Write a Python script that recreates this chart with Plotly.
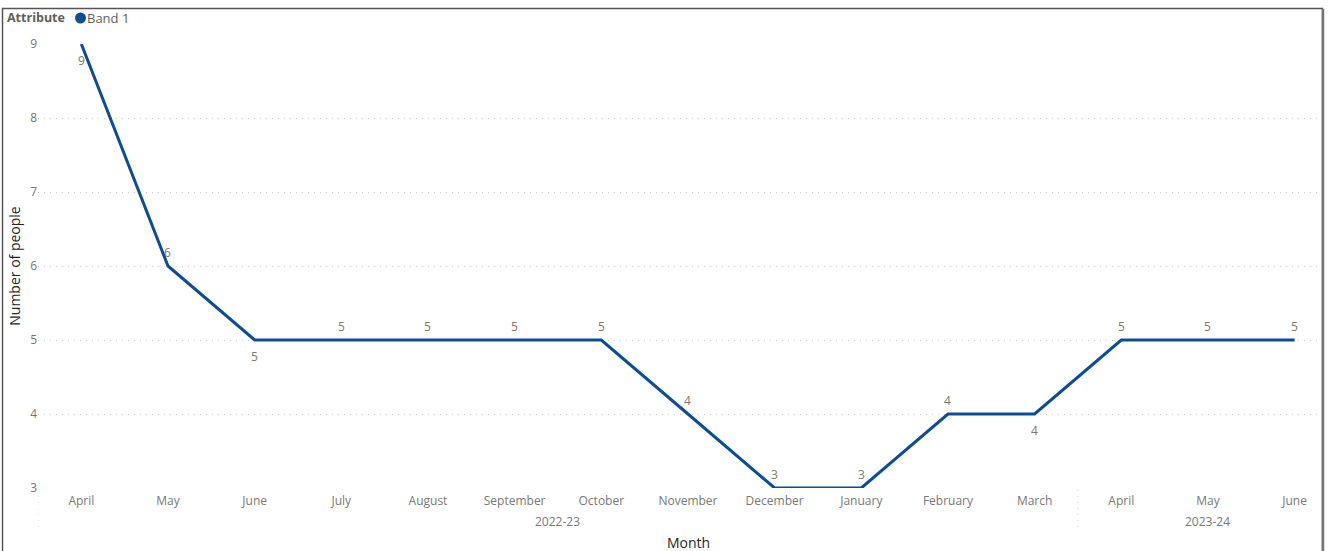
import plotly.graph_objects as go

months = ["April", "May", "June", "July", "August", "September", "October",
          "November", "December", "January", "February", "March",
          "April", "May", "June"]
years = ["2022-23", "2023-24"]
year_counts = [12, 3]
band1 = [9, 6, 5, 5, 5, 5, 5, 4, 3, 3, 4, 4, 5, 5, 5]
label_below = [True, False, True, False, False, False, False, False, False, False,
               False, True, False, False, False]

FONT = "Segoe UI, Open Sans, sans-serif"
LINE = "#0E4C96"
LABEL = "#857563"
TICK = "#777777"

x_idx = list(range(len(months)))

fig = go.Figure()
fig.add_trace(go.Scatter(
    x=x_idx, y=band1, mode="lines",
    line=dict(color=LINE, width=3),
    cliponaxis=False, showlegend=False, name="Band 1",
))

W, H = 1328, 551
L, R, T, B = 38, 10, 44, 63
pw, ph = W - L - R, H - T - B

def px(xp):
    return (xp - L) / pw

def py(yp):
    return (H - B - yp) / ph

annotations = []
shapes = []

# data labels
for xi, v, below in zip(x_idx, band1, label_below):
    annotations.append(dict(x=xi, y=v, xref="x", yref="y", text=str(v), showarrow=False,
                            font=dict(family=FONT, size=12, color=LABEL),
                            xanchor="center", yanchor="middle",
                            yshift=-16 if below else 14))

# year group labels and separators
start = 0
for yname, cnt in zip(years, year_counts):
    mid = start + (cnt - 1) / 2
    annotations.append(dict(x=mid, xref="x", y=py(521), yref="paper", text=yname,
                            showarrow=False, font=dict(family=FONT, size=12, color=TICK),
                            xanchor="center", yanchor="middle"))
    shapes.append(dict(type="line", xref="x", yref="paper", x0=start - 0.5, x1=start - 0.5,
                       y0=py(490), y1=py(532), line=dict(color="#cccccc", width=1, dash="1px,5px")))
    start += cnt

annotations.append(dict(x=px(688), xref="paper", y=py(542), yref="paper", text="Month",
                        showarrow=False, font=dict(family=FONT, size=14, color="#252423"),
                        xanchor="center", yanchor="middle"))
annotations.append(dict(x=px(5), xref="paper", y=py(18), yref="paper",
                        text="<b>Attribute</b>", showarrow=False,
                        font=dict(family=FONT, size=12.5, color="#605E5C"),
                        xanchor="left", yanchor="middle"))
annotations.append(dict(x=px(85), xref="paper", y=py(18), yref="paper",
                        text="Band 1", showarrow=False,
                        font=dict(family=FONT, size=13, color="#605E5C"),
                        xanchor="left", yanchor="middle"))
# legend marker
shapes.append(dict(type="circle", xref="paper", yref="paper",
                   x0=px(75), x1=px(86), y0=py(23.5), y1=py(12.5),
                   fillcolor=LINE, line=dict(width=0)))

# outer border
shapes.append(dict(type="rect", xref="paper", yref="paper",
                   x0=px(2.5), x1=px(1322.5), y0=py(560), y1=py(8.5),
                   line=dict(color="#555555", width=1.5), layer="below"))
shapes.append(dict(type="line", xref="paper", yref="paper",
                   x0=px(1323), x1=px(1323), y0=py(560), y1=py(9),
                   line=dict(color="#777777", width=2.5), layer="below"))

fig.update_layout(
    width=W, height=H,
    margin=dict(l=L, r=R, t=T, b=B),
    paper_bgcolor="white", plot_bgcolor="white",
    font=dict(family=FONT, size=12, color=TICK),
    xaxis=dict(range=[-0.5, 14.27], tickmode="array", tickvals=x_idx, ticktext=months,
               showgrid=False, zeroline=False, showline=False, ticks="",
               tickfont=dict(family=FONT, size=12, color=TICK), ticklabelstandoff=4),
    yaxis=dict(range=[3, 9], dtick=1, showgrid=True, gridcolor="#c8c8c8",
               griddash="1px,5px", gridwidth=1, zeroline=False, showline=False, ticks="",
               tickfont=dict(family=FONT, size=12, color=TICK),
               title=dict(text="Number of people", standoff=6,
                          font=dict(family=FONT, size=14, color="#252423"))),
    annotations=annotations, shapes=shapes,
)

fig.write_html("out.html", config={"displayModeBar": False},
               post_script="document.body.style.margin='0';document.body.style.overflow='hidden';")
